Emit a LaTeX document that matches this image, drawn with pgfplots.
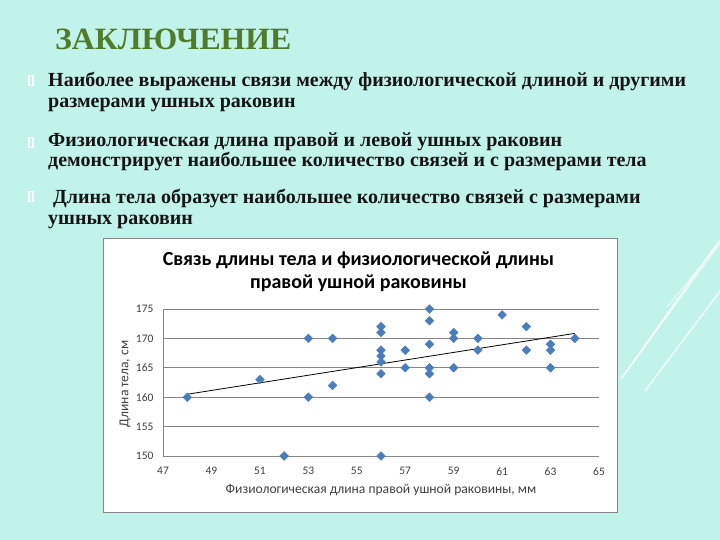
\documentclass[border=0pt]{standalone}
\usepackage{pgfplots}
\pgfplotsset{compat=1.18}
\usepackage{fontspec}
\setmainfont{Liberation Serif}
\newfontfamily\calfont{Carlito}
\definecolor{bg}{HTML}{C2F3EA}
\definecolor{ttl}{HTML}{4F7B2B}
\definecolor{mk}{HTML}{4A7EBB}
\definecolor{grd}{HTML}{868686}
\definecolor{tk}{HTML}{404040}
\definecolor{txt}{HTML}{151515}
\begin{document}
\begin{tikzpicture}[x=1pt,y=1pt]
\fill[bg] (0,0) rectangle (720,540);
\begin{scope}
\clip (0,0) rectangle (720,540);
\draw[white, line width=1.3pt, opacity=0.85] (621,161) -- (724,306);
\draw[white, line width=1pt, opacity=0.7] (625,166) -- (724,302);
\draw[white, line width=1.3pt, opacity=0.85] (645,149) -- (724,254);
\draw[white, line width=1pt, opacity=0.7] (667,233) -- (724,302);
\end{scope}
% slide title
\node[anchor=base west, inner sep=0, text=ttl, xscale=1.025, font=\bfseries\fontsize{31}{31}\selectfont] at (55,490.7) {ЗАКЛЮЧЕНИЕ};
% bullets
\foreach \yy in {454.3,392.3,338.3}{
  \draw[white, line width=1.3pt] (29,\yy) rectangle (33,\yy+10.5);
}
\begin{scope}[every node/.style={anchor=base west, inner sep=0, text=txt, font=\bfseries\fontsize{20}{20}\selectfont}]
\node at (48,453) {Наиболее выражены связи между физиологической длиной и другими};
\node at (48,432.5) {размерами ушных раковин};
\node at (48,393) {Физиологическая длина правой и левой ушных раковин};
\node at (48,373) {демонстрирует наибольшее количество связей и с размерами тела};
\node at (53,336.5) {Длина тела образует наибольшее количество связей с размерами};
\node at (48,315.5) {ушных раковин};
\end{scope}
% chart box
\draw[fill=white, draw=grd, line width=0.8pt] (103,28) rectangle (617,302);
\node[anchor=base, inner sep=0, font=\calfont\bfseries\fontsize{20}{20}\selectfont] at (358.5,274) {Связь длины тела и физиологической длины};
\node[anchor=base, inner sep=0, font=\calfont\bfseries\fontsize{20}{20}\selectfont] at (358.5,251.7) {правой ушной раковины};
\begin{axis}[
  at={(163pt,84pt)}, anchor=south west,
  scale only axis, width=436pt, height=147pt,
  xmin=47, xmax=65, ymin=150, ymax=175,
  xtick={47,49,...,65}, ytick={150,155,...,175},
  ymajorgrids, major grid style={grd, line width=0.8pt},
  axis x line*=bottom, axis y line*=left,
  axis line style={grd, line width=0.8pt, -},
  major tick length=0pt,
  /pgf/number format/assume math mode=true,
  ticklabel style={font=\calfont\fontsize{11.5}{12}\selectfont, text=tk},
  xticklabel style={yshift=-8pt},
  yticklabel style={xshift=-6pt},
  xlabel={Физиологическая длина правой ушной раковины, мм},
  ylabel={Длина тела, см},
  label style={font=\calfont\fontsize{13.6}{14}\selectfont, text=tk},
  xlabel style={at={(axis description cs:0.5,-0.231)}, anchor=center},
  ylabel style={at={(axis description cs:-0.087,0.49)}, anchor=center},
  clip=false,
]
\addplot[only marks, mark=square*, mark size=3.1pt, mark options={rotate=45, fill=mk, draw=mk}] coordinates {
(48,160) (51,163) (52,150) (53,170) (53,160) (54,170) (54,162)
(56,172) (56,171) (56,168) (56,167) (56,166) (56,164) (56,150)
(57,168) (57,165)
(58,175) (58,173) (58,169) (58,165) (58,164) (58,160)
(59,171) (59,170) (59,165)
(60,170) (60,168) (61,174) (62,172) (62,168)
(63,169) (63,168) (63,165) (64,170)
};
\addplot[black, line width=0.8pt] coordinates {(48,160.5) (64,170.85)};
\end{axis}
\end{tikzpicture}
\end{document}
